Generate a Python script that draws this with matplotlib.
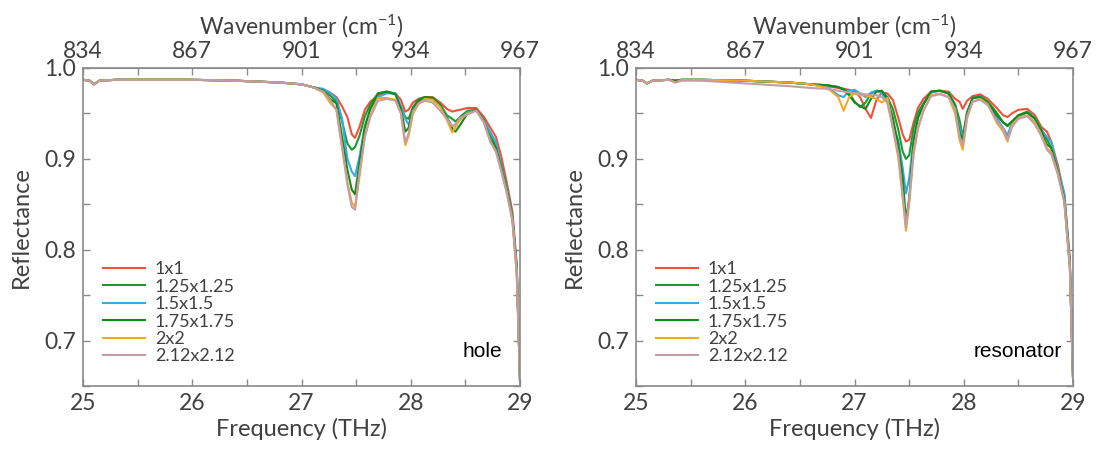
import matplotlib
matplotlib.use("Agg")
import matplotlib.pyplot as plt
from matplotlib.ticker import MultipleLocator

# ---- data ----
labels = ["1x1", "1.25x1.25", "1.5x1.5", "1.75x1.75", "2x2", "2.12x2.12"]
colors = ["#f2503c", "#1f9a2a", "#3aa9e2", "#138a1c", "#f0aa28", "#c49ca4"]

freq_ticks = [25, 26, 27, 28, 29]
wavenumber_labels = ["834", "867", "901", "934", "967"]

# hole panel
f_hole = [25.0, 25.06, 25.1, 25.15, 25.3, 25.6, 26.0, 26.4, 26.8, 27.0, 27.1, 27.2,
          27.26, 27.32, 27.37, 27.42, 27.46, 27.49, 27.53, 27.58, 27.63, 27.7, 27.78,
          27.86, 27.91, 27.95, 27.98, 28.02, 28.07, 28.13, 28.2, 28.27, 28.33, 28.38,
          28.41, 28.45, 28.52, 28.6, 28.67, 28.73, 28.78, 28.83, 28.88, 28.93, 28.97, 29.0]
base_hole = [0.987, 0.986, 0.982, 0.986, 0.987, 0.987, 0.987, 0.986, 0.984, 0.982, 0.979]

hole_1x1 = base_hole + [0.976,
    0.973, 0.968, 0.958, 0.946, 0.927, 0.923, 0.935, 0.954, 0.963, 0.970, 0.973,
    0.972, 0.965, 0.952, 0.954, 0.962, 0.966, 0.968, 0.968, 0.962, 0.955, 0.952,
    0.953, 0.954, 0.956, 0.956, 0.946, 0.934, 0.924, 0.902, 0.873, 0.842, 0.785, 0.66]
hole_125 = base_hole + [0.975,
    0.970, 0.963, 0.942, 0.917, 0.910, 0.913, 0.925, 0.947, 0.960, 0.972, 0.974,
    0.972, 0.957, 0.946, 0.944, 0.957, 0.965, 0.968, 0.967, 0.960, 0.948, 0.944,
    0.941, 0.946, 0.953, 0.954, 0.943, 0.926, 0.914, 0.893, 0.868, 0.838, 0.780, 0.655]
hole_15 = base_hole + [0.977,
    0.973, 0.966, 0.945, 0.900, 0.886, 0.881, 0.902, 0.936, 0.955, 0.968, 0.972,
    0.972, 0.958, 0.944, 0.938, 0.950, 0.962, 0.967, 0.966, 0.959, 0.946, 0.935,
    0.938, 0.943, 0.951, 0.954, 0.942, 0.929, 0.918, 0.892, 0.867, 0.836, 0.780, 0.655]
hole_175 = base_hole + [0.975,
    0.966, 0.961, 0.925, 0.888, 0.866, 0.861, 0.895, 0.935, 0.955, 0.972, 0.974,
    0.971, 0.955, 0.930, 0.934, 0.955, 0.964, 0.968, 0.967, 0.959, 0.945, 0.933,
    0.930, 0.937, 0.950, 0.954, 0.941, 0.921, 0.912, 0.889, 0.865, 0.835, 0.778, 0.655]
hole_2 = base_hole + [0.973,
    0.962, 0.954, 0.913, 0.874, 0.852, 0.847, 0.880, 0.925, 0.948, 0.967, 0.967,
    0.965, 0.950, 0.915, 0.925, 0.950, 0.960, 0.966, 0.965, 0.957, 0.943, 0.929,
    0.935, 0.943, 0.950, 0.953, 0.940, 0.919, 0.908, 0.886, 0.862, 0.832, 0.775, 0.655]
hole_212 = base_hole + [0.974,
    0.965, 0.954, 0.915, 0.872, 0.847, 0.844, 0.885, 0.924, 0.946, 0.964, 0.966,
    0.964, 0.950, 0.918, 0.928, 0.952, 0.961, 0.964, 0.962, 0.953, 0.944, 0.936,
    0.938, 0.945, 0.949, 0.953, 0.940, 0.918, 0.908, 0.886, 0.862, 0.833, 0.775, 0.655]

# resonator panel
f_res = [25.0, 25.06, 25.1, 25.15, 25.3, 25.36, 25.42, 25.6, 26.0, 26.4, 26.6,
         26.75, 26.85, 26.9, 26.95, 27.0, 27.05, 27.1, 27.15, 27.2, 27.25, 27.3,
         27.35, 27.4, 27.44, 27.47, 27.5, 27.54, 27.58, 27.63, 27.7, 27.78, 27.86,
         27.92, 27.96, 27.99, 28.03, 28.08, 28.15, 28.22, 28.3, 28.36, 28.4, 28.44,
         28.5, 28.58, 28.65, 28.71, 28.76, 28.8, 28.86, 28.92, 28.97, 29.0]
base_res = [0.987, 0.986, 0.983, 0.986, 0.987, 0.986, 0.987, 0.987, 0.986, 0.984, 0.982]

res_1x1 = base_res + [
    0.980, 0.978, 0.977, 0.976, 0.974, 0.968, 0.955, 0.945, 0.965, 0.973, 0.972,
    0.965, 0.945, 0.927, 0.919, 0.921, 0.940, 0.956, 0.966, 0.974, 0.975, 0.974,
    0.966, 0.963, 0.955, 0.964, 0.969, 0.971, 0.966, 0.956, 0.948, 0.946, 0.950,
    0.954, 0.955, 0.948, 0.935, 0.930, 0.919, 0.893, 0.860, 0.790, 0.655]
res_125 = base_res + [
    0.981, 0.979, 0.977, 0.972, 0.963, 0.957, 0.962, 0.972, 0.975, 0.974, 0.968,
    0.955, 0.932, 0.908, 0.900, 0.904, 0.934, 0.951, 0.961, 0.974, 0.975, 0.972,
    0.960, 0.943, 0.924, 0.952, 0.967, 0.969, 0.963, 0.951, 0.940, 0.937, 0.941,
    0.948, 0.952, 0.945, 0.932, 0.922, 0.912, 0.888, 0.855, 0.785, 0.655]
res_15 = base_res + [
    0.979, 0.970, 0.968, 0.975, 0.976, 0.972, 0.968, 0.973, 0.975, 0.972, 0.962,
    0.937, 0.920, 0.890, 0.862, 0.879, 0.923, 0.945, 0.960, 0.973, 0.975, 0.972,
    0.954, 0.935, 0.923, 0.950, 0.967, 0.968, 0.962, 0.945, 0.934, 0.926, 0.940,
    0.947, 0.951, 0.944, 0.932, 0.924, 0.919, 0.888, 0.862, 0.785, 0.655]
res_175 = base_res + [
    0.981, 0.979, 0.976, 0.970, 0.962, 0.958, 0.955, 0.966, 0.974, 0.975, 0.966,
    0.945, 0.915, 0.879, 0.832, 0.857, 0.920, 0.945, 0.960, 0.974, 0.975, 0.972,
    0.958, 0.929, 0.921, 0.950, 0.967, 0.968, 0.962, 0.948, 0.940, 0.936, 0.941,
    0.948, 0.951, 0.944, 0.931, 0.916, 0.912, 0.886, 0.855, 0.783, 0.655]
res_2 = [0.987, 0.986, 0.983, 0.986, 0.987, 0.984, 0.987, 0.987, 0.986, 0.984, 0.982,
    0.978, 0.968, 0.953, 0.968, 0.972, 0.970, 0.970, 0.968, 0.966, 0.962, 0.967,
    0.934, 0.901, 0.857, 0.821, 0.850, 0.908, 0.935, 0.953, 0.970, 0.972, 0.968,
    0.950, 0.921, 0.910, 0.945, 0.963, 0.966, 0.960, 0.940, 0.930, 0.919, 0.937,
    0.945, 0.948, 0.940, 0.926, 0.912, 0.907, 0.884, 0.852, 0.780, 0.655]
res_212 = [0.987, 0.986, 0.983, 0.986, 0.987, 0.984, 0.986, 0.986, 0.983, 0.980, 0.978,
    0.977, 0.975, 0.974, 0.973, 0.972, 0.972, 0.971, 0.970, 0.970, 0.968, 0.962,
    0.934, 0.905, 0.860, 0.825, 0.855, 0.905, 0.933, 0.953, 0.969, 0.971, 0.968,
    0.955, 0.925, 0.915, 0.947, 0.963, 0.965, 0.959, 0.942, 0.933, 0.921, 0.935,
    0.944, 0.947, 0.938, 0.925, 0.910, 0.905, 0.883, 0.852, 0.780, 0.655]

hole_series = [hole_1x1, hole_125, hole_15, hole_175, hole_2, hole_212]
res_series = [res_1x1, res_125, res_15, res_175, res_2, res_212]

# ---- plotting ----
plt.rcParams['font.family'] = ['Lato', 'DejaVu Sans']
plt.rcParams['mathtext.default'] = 'regular'
txt = "#404040"
spine = "#8a8a8a"

fig = plt.figure(figsize=(11.14, 4.55), dpi=100)
ax1 = fig.add_axes([0.0745, 0.1516, 0.3923, 0.699])
ax2 = fig.add_axes([0.571, 0.1516, 0.3923, 0.699])


def style(ax, f, series, tag, tag_x):
    for y, c, lab in zip(series, colors, labels):
        ax.plot(f, y, color=c, lw=1.5, label=lab)
    ax.set_xlim(25, 29)
    ax.set_ylim(0.65, 1.0)
    ax.set_xticks(freq_ticks)
    ax.xaxis.set_minor_locator(MultipleLocator(0.5))
    ax.set_yticks([0.7, 0.8, 0.9, 1.0])
    ax.set_yticklabels(["0.7", "0.8", "0.9", "1.0"])
    ax.yaxis.set_minor_locator(MultipleLocator(0.05))
    ax.tick_params(which="both", direction="in", length=5, width=1, color=spine,
                   labelsize=16.5, labelcolor=txt, right=True, pad=5)
    for s in ax.spines.values():
        s.set_color(spine)
        s.set_linewidth(1.2)
    ax.set_xlabel("Frequency (THz)", fontsize=17, color=txt, labelpad=3)
    ax.set_ylabel("Reflectance", fontsize=17, color=txt, labelpad=9)

    top = ax.secondary_xaxis("top")
    top.set_xticks(freq_ticks)
    top.set_xticklabels(wavenumber_labels)
    top.xaxis.set_minor_locator(MultipleLocator(0.5))
    top.tick_params(which="both", direction="in", length=5, width=1, color=spine,
                    labelsize=16.5, labelcolor=txt, pad=4)
    top.spines["top"].set_color(spine)
    top.set_xlabel("Wavenumber (cm$^{-1}$)", fontsize=16.5, color=txt, labelpad=5)

    ax.text(tag_x, 0.107, tag, transform=ax.transAxes,
            ha="right", va="center", fontsize=15, color="black",
            family="Liberation Sans")
    ax.legend(loc="upper left", bbox_to_anchor=(0.03, 0.415), frameon=False,
              fontsize=13, handlelength=2.3, handletextpad=0.55,
              labelspacing=0.08, borderaxespad=0, labelcolor=txt)


style(ax1, f_hole, hole_series, "hole", 0.959)
style(ax2, f_res, res_series, "resonator", 0.975)

fig.savefig("out.png", dpi=100)
